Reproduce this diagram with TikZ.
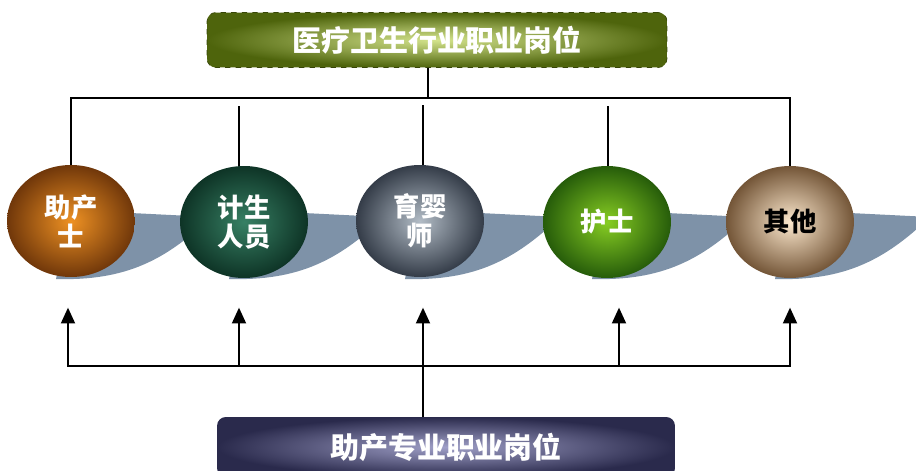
\documentclass[tikz,border=0pt]{standalone}
\usepackage{fontspec}
\newfontfamily\cjk{Noto Sans CJK SC}
\usepackage{tikz}
\usetikzlibrary{shapes,arrows.meta}

\definecolor{shadowblue}{RGB}{126,146,168}
\definecolor{olivedark}{RGB}{78,100,12}
\definecolor{olivelight}{RGB}{212,228,140}
\definecolor{navydark}{RGB}{42,42,76}
\definecolor{navylight}{RGB}{160,160,200}

\begin{document}
\begin{tikzpicture}[x=0.02cm,y=-0.02cm,
    hbox/.style={rounded corners=5pt, minimum height=1.1cm, text=white,
      font=\cjk\bfseries\fontsize{16.5}{18}\selectfont},
    ball/.style={ellipse, minimum width=2.56cm, minimum height=2.24cm,
      inner sep=0pt, align=center, text=white,
      font=\cjk\bfseries\fontsize{15}{16.5}\selectfont},
    link/.style={draw, line width=1pt},
    arr/.style={link, -{Triangle[length=9pt,width=8pt]}}]
\useasboundingbox (0,0) rectangle (916,470);
\clip (0,0) rectangle (916,470);

% shadows behind the balls
\foreach \cx in {71,244,420,607,790}
  \fill[shadowblue] (\cx,210) -- (\cx+140,217) .. controls (\cx+95,260) and (\cx+55,281) .. (\cx-15,279) -- cycle;

% balls
\node[ball, inner color={rgb,255:red,238;green,145;blue,35}, outer color={rgb,255:red,112;green,55;blue,10}] (zcs) at (71,221) {助产\\士};
\node[ball, inner color={rgb,255:red,55;green,128;blue,100}, outer color={rgb,255:red,14;green,52;blue,38}] (jsry) at (244,222) {计生\\人员};
\node[ball, inner color={rgb,255:red,178;green,188;blue,198}, outer color={rgb,255:red,52;green,60;blue,72}] (yys) at (420,221) {育婴\\师};
\node[ball, inner color={rgb,255:red,135;green,205;blue,35}, outer color={rgb,255:red,38;green,92;blue,10}] (hs) at (607,222) {护士};
\node[ball, text=black, inner color={rgb,255:red,252;green,232;blue,205}, outer color={rgb,255:red,115;green,85;blue,55}] (qt) at (790,222) {其他};

% boxes
\node[hbox, minimum width=9.2cm, inner color=olivelight, outer color=olivedark,
  draw=olivedark!70!black, dashed] (top) at (437,40) {医疗卫生行业职业岗位};
\node[hbox, minimum width=9.16cm, minimum height=1.2cm, inner color=navylight,
  outer color=navydark] (bot) at (446,447) {助产专业职业岗位};

% top tree
\draw[link] (top.south) ++(-9,0) -- ++(0,30) coordinate (tb);
\draw[link] (zcs.north) |- (tb) -| (qt.north);
\draw[link] (jsry.north) ++(-5,0) -- ++(0,-60);
\draw[link] (yys.north) ++(3,0) -- ++(0,-60);
\draw[link] (hs.north) ++(1,0) -- ++(0,-60);

% bottom tree
\draw[link] (bot.north) ++(-23,0) -- ++(0,-51) coordinate (bb);
\draw[arr] (zcs.south |- bb) ++(-3,0) coordinate (bl) -- ++(0,-58);
\draw[arr] (jsry.south |- bb) ++(-5,0) -- ++(0,-58);
\draw[arr] (bb) -- ++(0,-58);
\draw[arr] (hs.south |- bb) ++(12,0) -- ++(0,-58);
\draw[arr] (qt.south |- bb) coordinate (br) -- ++(0,-58);
\draw[link, line cap=rect] (bl) -- (br);
\end{tikzpicture}
\end{document}
